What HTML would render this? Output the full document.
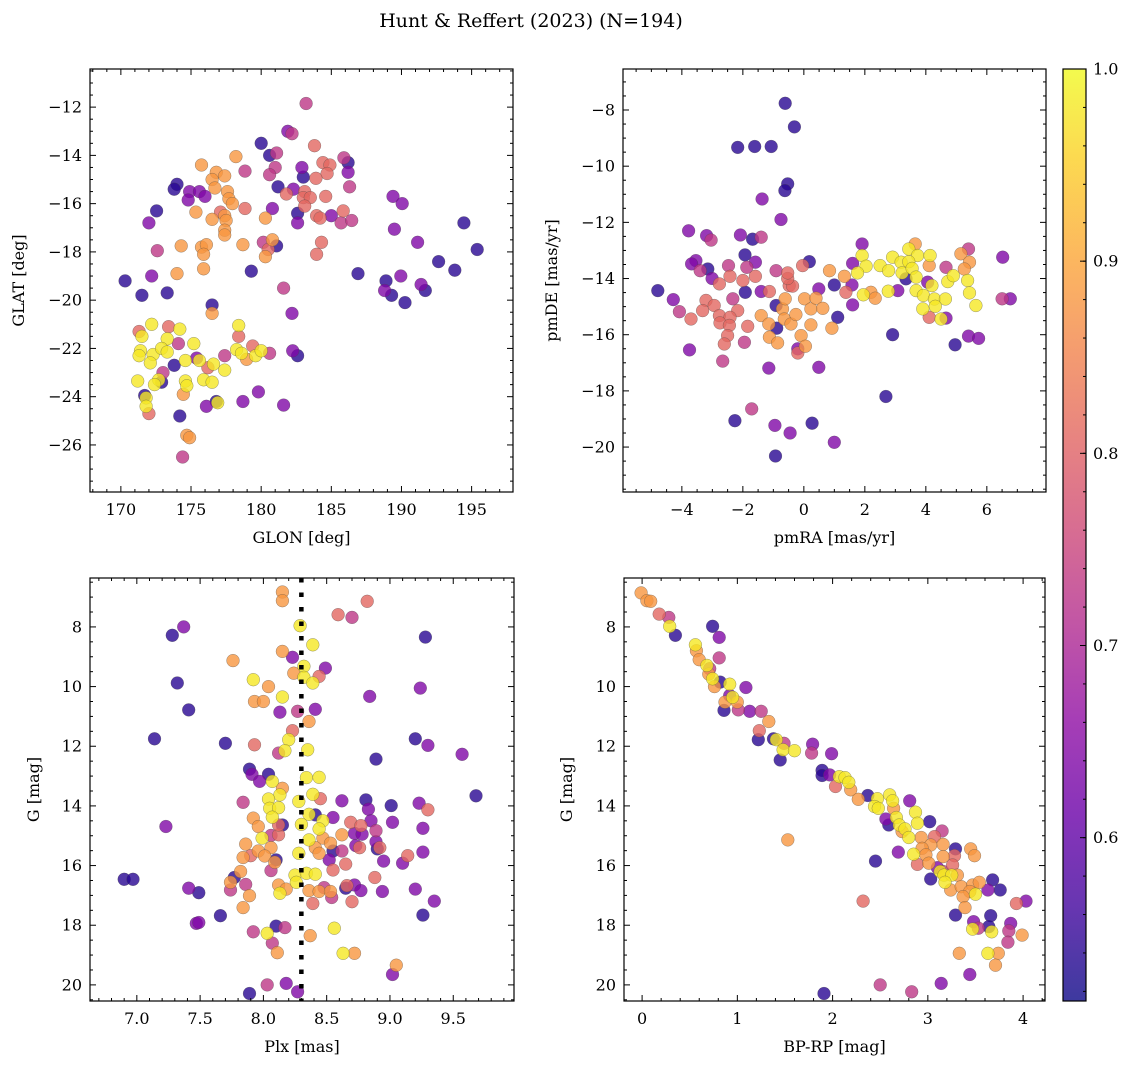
<!DOCTYPE html>
<html><head><meta charset="utf-8">
<style>
html,body{margin:0;padding:0;background:#fff;}
svg{display:block;font-family:"DejaVu Serif","Liberation Serif",serif;}
</style></head>
<body>
<svg id="fig" width="1136" height="1068" viewBox="0 0 1136 1068" xmlns="http://www.w3.org/2000/svg">
<defs>
<linearGradient id="plasmaGrad" x1="0" y1="1" x2="0" y2="0">
<stop offset="0" stop-color="#0d0887"/><stop offset="0.1" stop-color="#41049d"/><stop offset="0.2" stop-color="#6a00a8"/><stop offset="0.3" stop-color="#8f0da4"/><stop offset="0.4" stop-color="#b12a90"/><stop offset="0.5" stop-color="#cc4778"/><stop offset="0.6" stop-color="#e16462"/><stop offset="0.7" stop-color="#f2844b"/><stop offset="0.8" stop-color="#fca636"/><stop offset="0.9" stop-color="#fcce25"/><stop offset="1" stop-color="#f0f921"/>
</linearGradient>
</defs>
<text x="531" y="27" font-size="19" text-anchor="middle">Hunt &amp; Reffert (2023) (N=194)</text>
</svg>
<script>
// ---- Panel 1: GLON vs GLAT ----
const tlGlon=[183.2,181.9,182.2,180.0,181.1,180.6,181.0,180.6,183.8,185.9,186.2,186.2,186.3,184.4,184.9,184.7,183.9,182.9,183.0,181.2,181.8,182.3,183.1,183.0,183.5,183.1,184.6,180.8,182.6,182.6,183.95,184.2,185.0,185.85,185.7,186.45,184.3,183.95,178.85,178.2,175.75,176.8,176.5,177.4,176.7,177.6,177.7,177.95,174.0,173.8,174.9,175.6,174.8,176.0,172.55,172.0,175.35,176.5,177.1,177.4,177.5,177.4,177.4,178.85,180.3,172.6,174.3,175.75,176.1,175.9,178.7,180.15,180.8,181.1,180.5,180.3,175.9,174.0,172.2,170.3,171.5,173.3,179.3,181.6,182.2,186.9,189.4,190.05,189.5,191.15,194.45,195.4,192.65,193.8,188.9,188.8,189.3,189.95,191.4,191.7,190.25,176.5,176.5,172.2,171.3,171.5,173.4,174.2,173.3,171.4,171.3,172.3,172.9,173.3,174.1,175.2,172.1,174.6,175.4,175.6,176.6,177.4,176.2,177.4,178.4,178.4,178.25,178.6,179.4,179.6,180.0,180.6,178.96,182.25,182.6,173.8,171.2,173.0,172.7,172.9,172.4,174.6,174.7,175.9,176.5,174.45,171.7,171.8,171.8,172.0,174.2,176.1,176.8,176.9,178.7,179.8,181.6,174.7,174.9,174.4];
const tlGlat=[-11.85,-13.0,-13.1,-13.5,-13.9,-14.0,-14.5,-14.8,-13.6,-14.1,-14.3,-14.7,-15.3,-14.3,-14.4,-14.75,-14.95,-14.5,-14.9,-15.3,-15.6,-15.4,-15.5,-15.75,-15.75,-16.1,-15.7,-16.2,-16.4,-16.8,-16.5,-16.6,-16.5,-16.3,-16.8,-16.7,-17.6,-18.1,-14.65,-14.05,-14.4,-14.7,-15.0,-14.85,-15.35,-15.5,-15.8,-16.0,-15.2,-15.4,-15.5,-15.5,-15.85,-15.7,-16.3,-16.8,-16.35,-16.65,-16.35,-16.5,-16.7,-17.1,-17.3,-16.2,-16.6,-17.95,-17.75,-17.8,-17.7,-18.1,-17.7,-17.6,-17.5,-17.75,-17.9,-18.2,-18.7,-18.9,-19.0,-19.2,-19.8,-19.7,-18.8,-19.5,-20.55,-18.9,-15.7,-16.0,-17.06,-17.6,-16.8,-17.9,-18.4,-18.76,-19.2,-19.6,-19.8,-19.0,-19.35,-19.6,-20.1,-20.2,-20.55,-21.0,-21.3,-21.5,-21.1,-21.2,-21.6,-22.1,-22.3,-22.25,-22.0,-22.15,-21.8,-21.8,-22.6,-22.5,-22.4,-22.5,-22.65,-22.3,-22.8,-22.9,-21.05,-21.5,-22.05,-22.2,-21.9,-22.3,-22.1,-22.2,-22.45,-22.1,-22.3,-22.7,-23.35,-23.0,-23.3,-23.4,-23.5,-23.35,-23.55,-23.3,-23.4,-23.9,-23.95,-24.05,-24.4,-24.7,-24.8,-24.4,-24.2,-24.25,-24.2,-23.8,-24.35,-25.6,-25.7,-26.5];
const tlProb=[0.73,0.64,0.73,0.54,0.73,0.54,0.73,0.73,0.81,0.73,0.54,0.64,0.73,0.81,0.81,0.81,0.81,0.64,0.54,0.54,0.81,0.64,0.81,0.81,0.81,0.81,0.81,0.64,0.54,0.64,0.81,0.81,0.64,0.81,0.73,0.73,0.81,0.81,0.73,0.88,0.88,0.88,0.88,0.88,0.88,0.88,0.88,0.88,0.54,0.54,0.64,0.64,0.64,0.64,0.54,0.64,0.88,0.88,0.81,0.88,0.88,0.88,0.88,0.81,0.88,0.73,0.88,0.88,0.88,0.88,0.88,0.73,0.88,0.54,0.81,0.88,0.88,0.88,0.64,0.54,0.54,0.54,0.54,0.73,0.64,0.54,0.64,0.64,0.64,0.64,0.54,0.54,0.54,0.54,0.54,0.64,0.54,0.64,0.64,0.54,0.54,0.54,0.88,0.98,0.81,0.98,0.81,0.98,0.98,0.98,0.98,0.98,0.98,0.98,0.73,0.98,0.98,0.98,0.64,0.98,0.98,0.73,0.81,0.98,0.98,0.81,0.98,0.98,0.81,0.98,0.98,0.73,0.88,0.64,0.54,0.54,0.98,0.73,0.98,0.54,0.98,0.98,0.98,0.98,0.98,0.88,0.54,0.98,0.98,0.81,0.54,0.64,0.54,0.98,0.64,0.64,0.64,0.88,0.88,0.73];

// ---- Panel 2: pmRA vs pmDE ----
const trPmra=[-0.61,-0.31,-2.17,-1.61,-1.07,-0.53,-0.62,-1.37,-0.75,-3.78,-3.19,-3.04,-2.08,-1.68,-1.4,-1.93,-1.59,-3.54,-3.68,-3.4,-3.15,-2.47,-1.87,-3.01,-2.77,-2.42,-2.0,-1.59,-0.91,-1.92,-1.4,-1.13,-4.79,-4.28,-4.08,-3.7,-3.21,-3.32,-2.94,-2.77,-2.33,-2.17,-2.42,-2.75,-2.44,-1.84,-2.5,-2.61,-1.95,-3.75,-2.66,-1.15,0.49,-0.91,-0.7,-0.61,-0.48,-0.37,-0.53,-0.53,-1.4,-1.15,-0.89,-0.64,-0.42,-0.26,0.02,0.23,0.4,0.62,0.23,-0.09,0.05,-0.2,-0.2,-1.13,-0.86,0.92,0.49,1.0,1.11,-0.04,0.18,0.84,1.33,1.6,1.58,1.38,1.6,2.2,2.34,1.91,1.91,2.04,1.76,1.95,2.5,2.78,2.91,3.19,3.22,3.44,3.65,3.73,3.44,3.55,3.68,4.14,4.11,3.35,3.08,2.77,3.68,3.92,4.06,4.2,4.28,4.64,4.31,3.9,4.11,4.66,4.5,4.72,4.9,5.37,5.43,5.64,4.66,5.15,5.4,5.43,5.26,6.52,6.5,6.77,2.91,4.96,5.4,5.73,2.69,-1.71,-2.26,-0.95,-0.45,0.27,1.0,-0.93];
const trPmde=[-7.76,-8.6,-9.33,-9.3,-9.3,-10.63,-10.87,-11.17,-11.9,-12.3,-12.47,-12.63,-12.45,-12.6,-12.53,-13.16,-13.42,-13.36,-13.48,-13.72,-13.66,-13.54,-13.6,-14.0,-14.19,-13.92,-14.07,-13.92,-13.72,-14.49,-14.46,-14.46,-14.43,-14.75,-15.18,-15.44,-14.78,-15.14,-14.96,-15.32,-14.72,-15.14,-15.38,-15.58,-15.67,-15.7,-16.03,-16.33,-16.27,-16.54,-16.94,-17.19,-17.16,-14.96,-15.08,-14.72,-14.25,-14.27,-14.0,-13.8,-15.32,-15.62,-15.77,-15.44,-15.62,-15.28,-14.72,-15.08,-14.7,-15.06,-15.65,-16.03,-16.41,-16.5,-16.65,-16.09,-16.29,-15.77,-14.37,-14.23,-15.38,-13.54,-13.4,-13.72,-13.92,-13.46,-14.23,-14.49,-14.94,-14.49,-14.7,-12.77,-13.18,-13.56,-13.8,-14.58,-13.54,-13.72,-13.24,-13.42,-13.8,-12.95,-12.77,-13.18,-13.4,-13.64,-13.95,-13.18,-13.54,-14.01,-14.43,-14.45,-14.43,-14.6,-14.13,-14.25,-14.73,-14.73,-14.99,-15.08,-15.38,-15.41,-15.44,-14.11,-13.9,-14.07,-14.51,-14.96,-13.6,-13.12,-12.95,-13.42,-13.66,-13.24,-14.72,-14.72,-16.0,-16.36,-16.05,-16.13,-18.2,-18.64,-19.06,-19.23,-19.5,-19.15,-19.83,-20.32];
const trProb=[0.54,0.54,0.54,0.54,0.54,0.54,0.54,0.64,0.64,0.64,0.64,0.73,0.64,0.54,0.73,0.54,0.64,0.64,0.64,0.73,0.54,0.73,0.73,0.64,0.81,0.81,0.81,0.81,0.73,0.54,0.64,0.81,0.54,0.64,0.73,0.81,0.81,0.81,0.81,0.81,0.73,0.81,0.81,0.81,0.81,0.81,0.81,0.81,0.73,0.64,0.73,0.64,0.64,0.54,0.88,0.88,0.81,0.81,0.81,0.81,0.88,0.88,0.54,0.88,0.88,0.88,0.88,0.88,0.88,0.88,0.88,0.88,0.88,0.64,0.81,0.88,0.88,0.88,0.64,0.54,0.54,0.81,0.54,0.88,0.88,0.64,0.64,0.81,0.64,0.88,0.88,0.64,0.98,0.98,0.98,0.98,0.98,0.98,0.98,0.98,0.98,0.98,0.88,0.98,0.98,0.98,0.98,0.98,0.88,0.54,0.64,0.98,0.98,0.98,0.64,0.98,0.98,0.98,0.98,0.98,0.81,0.64,0.98,0.98,0.98,0.98,0.98,0.98,0.73,0.88,0.73,0.88,0.88,0.64,0.73,0.64,0.54,0.54,0.64,0.64,0.54,0.73,0.54,0.64,0.64,0.54,0.64,0.54];

// ---- Panel 3: Plx vs G ----
const blPlx=[8.15,8.15,8.82,8.59,8.7,8.29,8.39,7.28,7.37,9.28,8.15,8.23,7.76,8.32,8.24,8.49,8.44,8.32,8.39,7.92,8.04,7.32,9.24,8.84,8.15,7.93,8.0,7.41,8.13,8.27,8.41,8.36,8.23,8.2,7.93,7.14,7.7,8.12,8.17,8.35,9.2,9.3,9.57,8.89,7.89,7.91,8.04,7.97,8.07,8.15,8.34,8.44,8.13,8.04,7.84,8.05,8.12,8.28,8.39,8.45,8.62,8.81,8.83,9.01,9.23,9.3,9.68,8.07,7.92,7.96,8.15,8.36,8.41,8.47,8.3,8.44,8.55,8.69,8.77,8.85,8.89,9.02,9.26,7.23,7.99,8.06,8.12,8.12,8.36,8.47,8.53,8.62,8.72,8.78,8.89,7.86,7.96,8.06,8.01,7.9,7.84,8.1,8.09,8.28,8.41,8.44,8.52,8.55,8.62,8.73,8.76,8.9,8.92,8.95,9.14,9.1,9.26,8.65,8.06,8.55,8.25,8.34,8.41,7.82,7.77,7.74,7.86,7.74,7.89,7.84,8.12,8.18,8.13,8.26,8.36,8.44,8.48,8.53,8.54,8.39,8.65,8.72,8.66,8.77,8.88,8.94,9.2,9.35,8.7,9.26,7.41,7.49,6.9,6.97,7.47,7.49,7.66,7.92,8.03,8.1,8.17,8.07,8.11,8.37,8.56,8.63,8.72,9.05,9.02,8.03,8.18,8.27,7.89];
const blG=[6.83,7.12,7.14,7.59,7.68,7.96,8.6,8.28,8.0,8.34,8.82,9.02,9.13,9.32,9.55,9.38,9.66,9.69,9.88,9.77,10.0,9.88,10.05,10.33,10.35,10.5,10.5,10.78,10.86,10.83,10.76,11.17,11.48,11.78,11.95,11.75,11.9,12.23,12.15,12.12,11.75,11.97,12.27,12.43,12.77,12.94,12.94,13.18,13.18,13.41,13.05,13.04,13.63,13.77,13.88,14.08,14.06,13.85,13.61,13.76,13.83,13.8,14.11,13.99,13.91,14.13,13.66,14.38,14.41,14.69,14.64,14.28,14.3,14.5,14.62,14.77,14.39,14.55,14.66,14.5,14.83,14.55,14.75,14.69,15.08,14.99,14.97,14.64,15.14,15.08,15.25,14.97,14.92,14.95,15.2,15.28,15.51,15.4,15.68,15.67,15.73,15.81,15.89,15.59,15.4,15.59,15.81,15.51,15.51,15.33,15.4,15.44,15.4,15.85,15.67,15.92,15.55,15.95,16.17,16.15,16.32,16.26,16.29,16.2,16.4,16.56,16.63,16.82,17.01,17.41,16.65,16.79,16.93,16.56,16.84,16.87,16.74,16.87,17.07,17.27,16.76,16.65,16.67,16.84,16.4,16.87,16.79,17.19,17.21,17.66,16.76,16.91,16.46,16.46,17.94,17.91,17.68,18.22,18.27,18.03,18.08,18.6,18.92,18.35,18.1,18.94,18.94,19.34,19.65,20.0,19.95,20.23,20.29];
const blProb=[0.88,0.88,0.81,0.81,0.73,0.98,0.98,0.54,0.64,0.54,0.88,0.64,0.88,0.98,0.88,0.64,0.81,0.98,0.98,0.98,0.88,0.54,0.64,0.64,0.98,0.88,0.88,0.54,0.64,0.73,0.64,0.88,0.81,0.98,0.81,0.54,0.54,0.73,0.98,0.98,0.54,0.64,0.64,0.54,0.54,0.64,0.54,0.64,0.98,0.88,0.98,0.98,0.98,0.98,0.73,0.98,0.98,0.98,0.98,0.81,0.64,0.54,0.64,0.54,0.64,0.81,0.54,0.98,0.88,0.88,0.54,0.98,0.54,0.98,0.98,0.98,0.64,0.81,0.81,0.64,0.73,0.64,0.64,0.64,0.98,0.73,0.81,0.81,0.98,0.88,0.88,0.88,0.64,0.64,0.64,0.88,0.88,0.88,0.88,0.81,0.88,0.54,0.88,0.98,0.88,0.88,0.64,0.54,0.73,0.64,0.81,0.54,0.81,0.64,0.81,0.64,0.64,0.81,0.73,0.81,0.98,0.98,0.98,0.88,0.54,0.88,0.73,0.73,0.88,0.88,0.88,0.88,0.98,0.98,0.88,0.88,0.73,0.88,0.73,0.81,0.54,0.64,0.81,0.64,0.81,0.64,0.64,0.64,0.81,0.54,0.64,0.54,0.54,0.54,0.64,0.64,0.54,0.73,0.98,0.54,0.73,0.73,0.88,0.88,0.98,0.98,0.88,0.88,0.64,0.73,0.64,0.64,0.54];

// ---- Panel 4: BP-RP vs G ----
const brColor=[-0.01,0.05,0.09,0.18,0.28,0.29,0.35,0.74,0.81,0.81,0.56,0.57,0.6,0.68,0.71,0.7,0.74,0.82,0.76,0.92,1.09,0.92,0.95,0.87,1.0,0.86,1.01,1.13,1.25,1.33,1.23,1.22,1.38,1.41,1.49,1.48,1.6,1.45,1.79,1.78,1.99,1.89,1.89,1.97,2.07,2.13,2.17,2.03,2.19,2.27,2.37,2.47,2.44,2.48,2.6,2.63,2.64,2.81,2.87,2.56,2.59,2.67,2.7,2.76,2.8,2.73,2.89,3.02,3.15,2.93,3.07,3.16,3.03,2.94,2.69,2.85,2.98,3.16,3.29,3.28,3.45,3.49,2.89,3.01,3.1,3.26,3.16,3.13,3.17,3.25,3.31,3.03,3.18,3.24,3.35,3.47,3.54,3.44,3.5,3.37,3.63,3.68,3.76,2.45,1.53,2.32,3.93,4.03,3.39,3.29,3.66,3.48,3.47,3.53,3.67,3.64,3.87,3.85,3.99,3.84,3.33,3.63,3.74,3.71,3.44,3.14,2.5,2.83,1.91];
const brG=[6.86,7.12,7.14,7.57,7.68,7.98,8.28,7.98,8.35,9.04,8.6,8.8,9.1,9.29,9.4,9.58,9.74,9.85,10.0,9.92,10.03,10.3,10.36,10.52,10.52,10.8,10.78,10.83,10.83,11.17,11.48,11.78,11.75,11.78,11.9,12.12,12.15,12.46,11.93,12.23,12.25,12.81,12.98,12.96,13.02,13.05,13.21,13.35,13.46,13.78,13.65,13.76,14.02,14.08,13.63,13.83,14.08,13.83,14.21,14.44,14.64,14.39,14.64,14.77,15.06,14.86,14.58,14.53,14.84,15.06,15.03,15.29,15.31,15.42,15.55,15.62,15.64,15.7,15.44,15.67,15.44,15.67,15.96,15.92,16.07,15.98,16.2,16.2,16.32,16.32,16.32,16.45,16.56,16.82,16.71,16.65,16.56,16.87,16.96,17.04,16.82,16.48,16.82,15.85,15.14,17.19,17.27,17.19,17.41,17.66,17.68,17.88,18.13,18.1,18.22,18.05,17.94,18.19,18.33,18.57,18.94,18.94,18.94,19.34,19.65,19.95,20.0,20.23,20.29];
const brProb=[0.88,0.88,0.88,0.81,0.73,0.98,0.54,0.54,0.64,0.73,0.98,0.88,0.88,0.98,0.73,0.88,0.98,0.54,0.88,0.98,0.64,0.64,0.98,0.88,0.88,0.54,0.73,0.64,0.73,0.88,0.81,0.54,0.54,0.98,0.73,0.98,0.98,0.54,0.64,0.73,0.64,0.54,0.54,0.64,0.98,0.98,0.98,0.81,0.88,0.88,0.54,0.98,0.98,0.98,0.98,0.98,0.88,0.64,0.98,0.64,0.54,0.98,0.98,0.98,0.98,0.88,0.98,0.54,0.73,0.88,0.81,0.88,0.88,0.88,0.64,0.98,0.88,0.88,0.54,0.81,0.88,0.88,0.81,0.88,0.64,0.81,0.73,0.98,0.98,0.98,0.88,0.54,0.98,0.88,0.88,0.88,0.88,0.88,0.98,0.88,0.64,0.54,0.54,0.54,0.88,0.81,0.81,0.64,0.88,0.54,0.54,0.64,0.98,0.73,0.98,0.54,0.64,0.73,0.88,0.73,0.88,0.98,0.88,0.88,0.64,0.64,0.73,0.73,0.54];

// ---- Colorbar ticks / reference line ----
const cbTicks=[0.6,0.7,0.8,0.9,1.0];
const plxRef=[8.3];

const NS='http://www.w3.org/2000/svg';
const svg=document.getElementById('fig');
const PMIN=0.515,PMAX=1.0;
const stops=[[13,8,135],[65,4,157],[106,0,168],[143,13,164],[177,42,144],[204,71,120],[225,100,98],[242,132,75],[252,166,54],[252,206,37],[240,249,33]];
function plasma(v){let t=(v-PMIN)/(PMAX-PMIN);t=Math.max(0,Math.min(1,t));const f=t*10,i=Math.min(9,Math.floor(f)),r=f-i;const a=stops[i],b=stops[i+1];return 'rgb('+a.map((c,k)=>Math.round(c+(b[k]-c)*r)).join(',')+')';}
function el(tag,attrs,parent){const e=document.createElementNS(NS,tag);for(const k in attrs)e.setAttribute(k,attrs[k]);(parent||svg).appendChild(e);return e;}
function fmt(v,d){const s=v.toFixed(d);return s.startsWith('-')?'\u2212'+s.slice(1):s;}

function panel(o,xs,ys,ps){
  const g=el('g',{});
  
  
  const X=v=>o.L+(v-o.x0)/(o.x1-o.x0)*(o.R-o.L);
  const Y=v=>o.invert? o.T+(v-o.y0)/(o.y1-o.y0)*(o.B-o.T) : o.B-(v-o.y0)/(o.y1-o.y0)*(o.B-o.T);
  const clip='clip-'+o.name;
  const cp=el('clipPath',{id:clip},g);el('rect',{x:o.L,y:o.T,width:o.R-o.L,height:o.B-o.T},cp);
  const pts=el('g',{'clip-path':'url(#'+clip+')'},g);
  const idx=ps.map((p,i)=>i).sort((a,b)=>ps[a]-ps[b]);
  idx.forEach(i=>{
    const c=el('circle',{cx:X(xs[i]).toFixed(1),cy:Y(ys[i]).toFixed(1),r:6.4,fill:plasma(ps[i]),'fill-opacity':0.8,stroke:'rgba(70,70,70,0.55)','stroke-width':0.5},pts);
    
    
  });
  if(o.vline){o.vline.forEach(v=>{const l=el('line',{x1:X(v),x2:X(v),y1:o.T,y2:o.B,stroke:'#000','stroke-width':4.5,'stroke-dasharray':'4.5 10'},pts);
    
    });}
  // ticks
  const tk=el('g',{stroke:'#000','stroke-width':1},g);
  for(let v=Math.ceil(o.x0/o.xmin-1e-9)*o.xmin;v<=o.x1+1e-9;v+=o.xmin){const x=X(v);const maj=Math.abs(v/o.xmaj-Math.round(v/o.xmaj))<1e-6;const len=maj?6:3;
    el('line',{x1:x,x2:x,y1:o.B,y2:o.B-len},tk);el('line',{x1:x,x2:x,y1:o.T,y2:o.T+len},tk);}
  for(let v=Math.ceil(o.y0/o.ymin-1e-9)*o.ymin;v<=o.y1+1e-9;v+=o.ymin){const y=Y(v);const maj=Math.abs(v/o.ymaj-Math.round(v/o.ymaj))<1e-6;const len=maj?6:3;
    el('line',{x1:o.L,x2:o.L+len,y1:y,y2:y},tk);el('line',{x1:o.R,x2:o.R-len,y1:y,y2:y},tk);}
  o.xt.forEach(v=>{const t=el('text',{x:X(v),y:o.B+23,'font-size':16,'text-anchor':'middle'},g);t.textContent=fmt(v,o.xd);
    
    });
  o.yt.forEach(v=>{const t=el('text',{x:o.L-8,y:Y(v)+5.5,'font-size':16,'text-anchor':'end'},g);t.textContent=fmt(v,0);
    
    });
  el('rect',{x:o.L,y:o.T,width:o.R-o.L,height:o.B-o.T,fill:'none',stroke:'#000','stroke-width':1.2},g);
  const xl=el('text',{x:(o.L+o.R)/2,y:o.B+51,'font-size':16,'text-anchor':'middle'},g);xl.textContent=o.xlabel;
  
  
  const yx=o.ylx,yy=(o.T+o.B)/2;
  const yl=el('text',{x:yx,y:yy,'font-size':16,'text-anchor':'middle',transform:'rotate(-90 '+yx+' '+yy+')'},g);yl.textContent=o.ylabel;
  
  
}

panel({name:'glon-glat-panel',L:90,R:513,T:69,B:492,x0:167.8,x1:197.95,y0:-27.95,y1:-10.42,xmaj:5,xmin:1,ymaj:2,ymin:0.5,
  xt:[170,175,180,185,190,195],xd:0,yt:[-26,-24,-22,-20,-18,-16,-14,-12],xlabel:'GLON [deg]',ylabel:'GLAT [deg]',ylx:24},tlGlon,tlGlat,tlProb);
panel({name:'proper-motion-panel',L:623,R:1046,T:69,B:492,x0:-5.93,x1:7.94,y0:-21.6,y1:-6.54,xmaj:2,xmin:0.5,ymaj:2,ymin:0.5,
  xt:[-4,-2,0,2,4,6],xd:0,yt:[-20,-18,-16,-14,-12,-10,-8],xlabel:'pmRA [mas/yr]',ylabel:'pmDE [mas/yr]',ylx:557},trPmra,trPmde,trProb);
panel({name:'parallax-magnitude-panel',L:90,R:514,T:578,B:1001,x0:6.63,x1:9.98,y0:6.36,y1:20.54,invert:true,xmaj:0.5,xmin:0.1,ymaj:2,ymin:0.5,
  xt:[7.0,7.5,8.0,8.5,9.0,9.5],xd:1,yt:[8,10,12,14,16,18,20],xlabel:'Plx [mas]',ylabel:'G [mag]',ylx:39,vline:plxRef},blPlx,blG,blProb);
panel({name:'cmd-panel',L:624,R:1045,T:578,B:1001,x0:-0.19,x1:4.23,y0:6.36,y1:20.54,invert:true,xmaj:1,xmin:0.2,ymaj:2,ymin:0.5,
  xt:[0,1,2,3,4],xd:0,yt:[8,10,12,14,16,18,20],xlabel:'BP-RP [mag]',ylabel:'G [mag]',ylx:572},brColor,brG,brProb);

// colorbar
const cb=el('g',{});


const cT=69,cB=1001,cL=1063,cR=1086;
const CY=v=>cB-(v-PMIN)/(PMAX-PMIN)*(cB-cT);
el('rect',{x:cL,y:cT,width:cR-cL,height:cB-cT,fill:'url(#plasmaGrad)','fill-opacity':0.8},cb);
el('rect',{x:cL,y:cT,width:cR-cL,height:cB-cT,fill:'none',stroke:'#000','stroke-width':1.2},cb);
for(let v=0.52;v<=1.0001;v+=0.02){el('line',{x1:cR,x2:cR-3,y1:CY(v),y2:CY(v),stroke:'#000'},cb);}
cbTicks.forEach(v=>{const y=CY(v);el('line',{x1:cR,x2:cR-6,y1:y,y2:y,stroke:'#000'},cb);
  const t=el('text',{x:cR+7,y:y+5.5,'font-size':16},cb);t.textContent=v.toFixed(1);
  
  });
</script>
</body></html>
